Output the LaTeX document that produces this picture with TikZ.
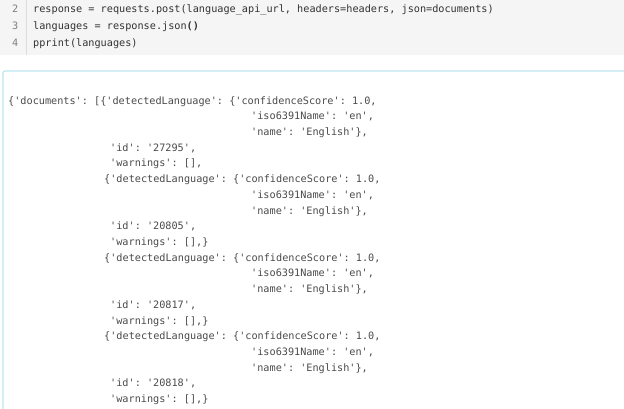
\documentclass[tikz,border=0pt]{standalone}
\usepackage{fontspec}
\setmonofont{DejaVu Sans Mono}
\definecolor{cellbg}{HTML}{F5F5F5}
\definecolor{gutter}{HTML}{DDDDDD}
\definecolor{codetext}{HTML}{333333}
\definecolor{outtext}{HTML}{4A4A4A}
\definecolor{outframe}{HTML}{BFE3F0}
\tikzset{
  codeline/.style = {anchor=base west, inner sep=0pt, font=\ttfamily\fontsize{10.2}{12}\selectfont, text=codetext},
  outline/.style = {codeline, text=outtext},
  lineno/.style = {codeline, text=gray},
}
\begin{document}
\begin{tikzpicture}[x=1pt, y=-1pt]
	\useasboundingbox (0,0) rectangle (624,408);
	% input cell
	\fill[cellbg] (0,0) rectangle (624,55);
	\draw[gutter] (26,0) -- (26,55);
	\node[lineno] (n2) at (12,12) {2};
	\node[lineno] (n3) at (12,29) {3};
	\node[lineno] (n4) at (12,46) {4};
	\node[codeline] (c2) at (33,12) {response = requests.post(language\_api\_url, headers=headers, json=documents)};
	\node[codeline] (c3) at (33,29) {languages = response.json\textbf{()}};
	\node[codeline] (c4) at (33,46) {pprint(languages)};
	% output cell
	\draw[outframe, line width=1.2pt, rounded corners=2pt] (3,71) rectangle (640,420);
	\foreach \k/\id in {0/27295, 1/20805, 2/20817, 3/20818}{
		\ifnum\k=0
			\node[outline] (d\k) at (8,104) {\{'documents': [\{'detectedLanguage': \{'confidenceScore': 1.0,};
		\else
			\node[outline] (d\k) at (104,{104+78.6*\k}) {\{'detectedLanguage': \{'confidenceScore': 1.0,};
		\fi
		\node[outline] (iso\k) at (251,{119.7+78.6*\k}) {'iso6391Name': 'en',};
		\node[outline] (nm\k) at (251,{135.4+78.6*\k}) {'name': 'English'\},};
		\node[outline] (id\k) at (110,{151.1+78.6*\k}) {'id': '\id',};
		\node[outline] (w\k) at (110,{166.8+78.6*\k}) {'warnings': [],\ifnum\k=0\else\}\fi};
	}
\end{tikzpicture}
\end{document}
